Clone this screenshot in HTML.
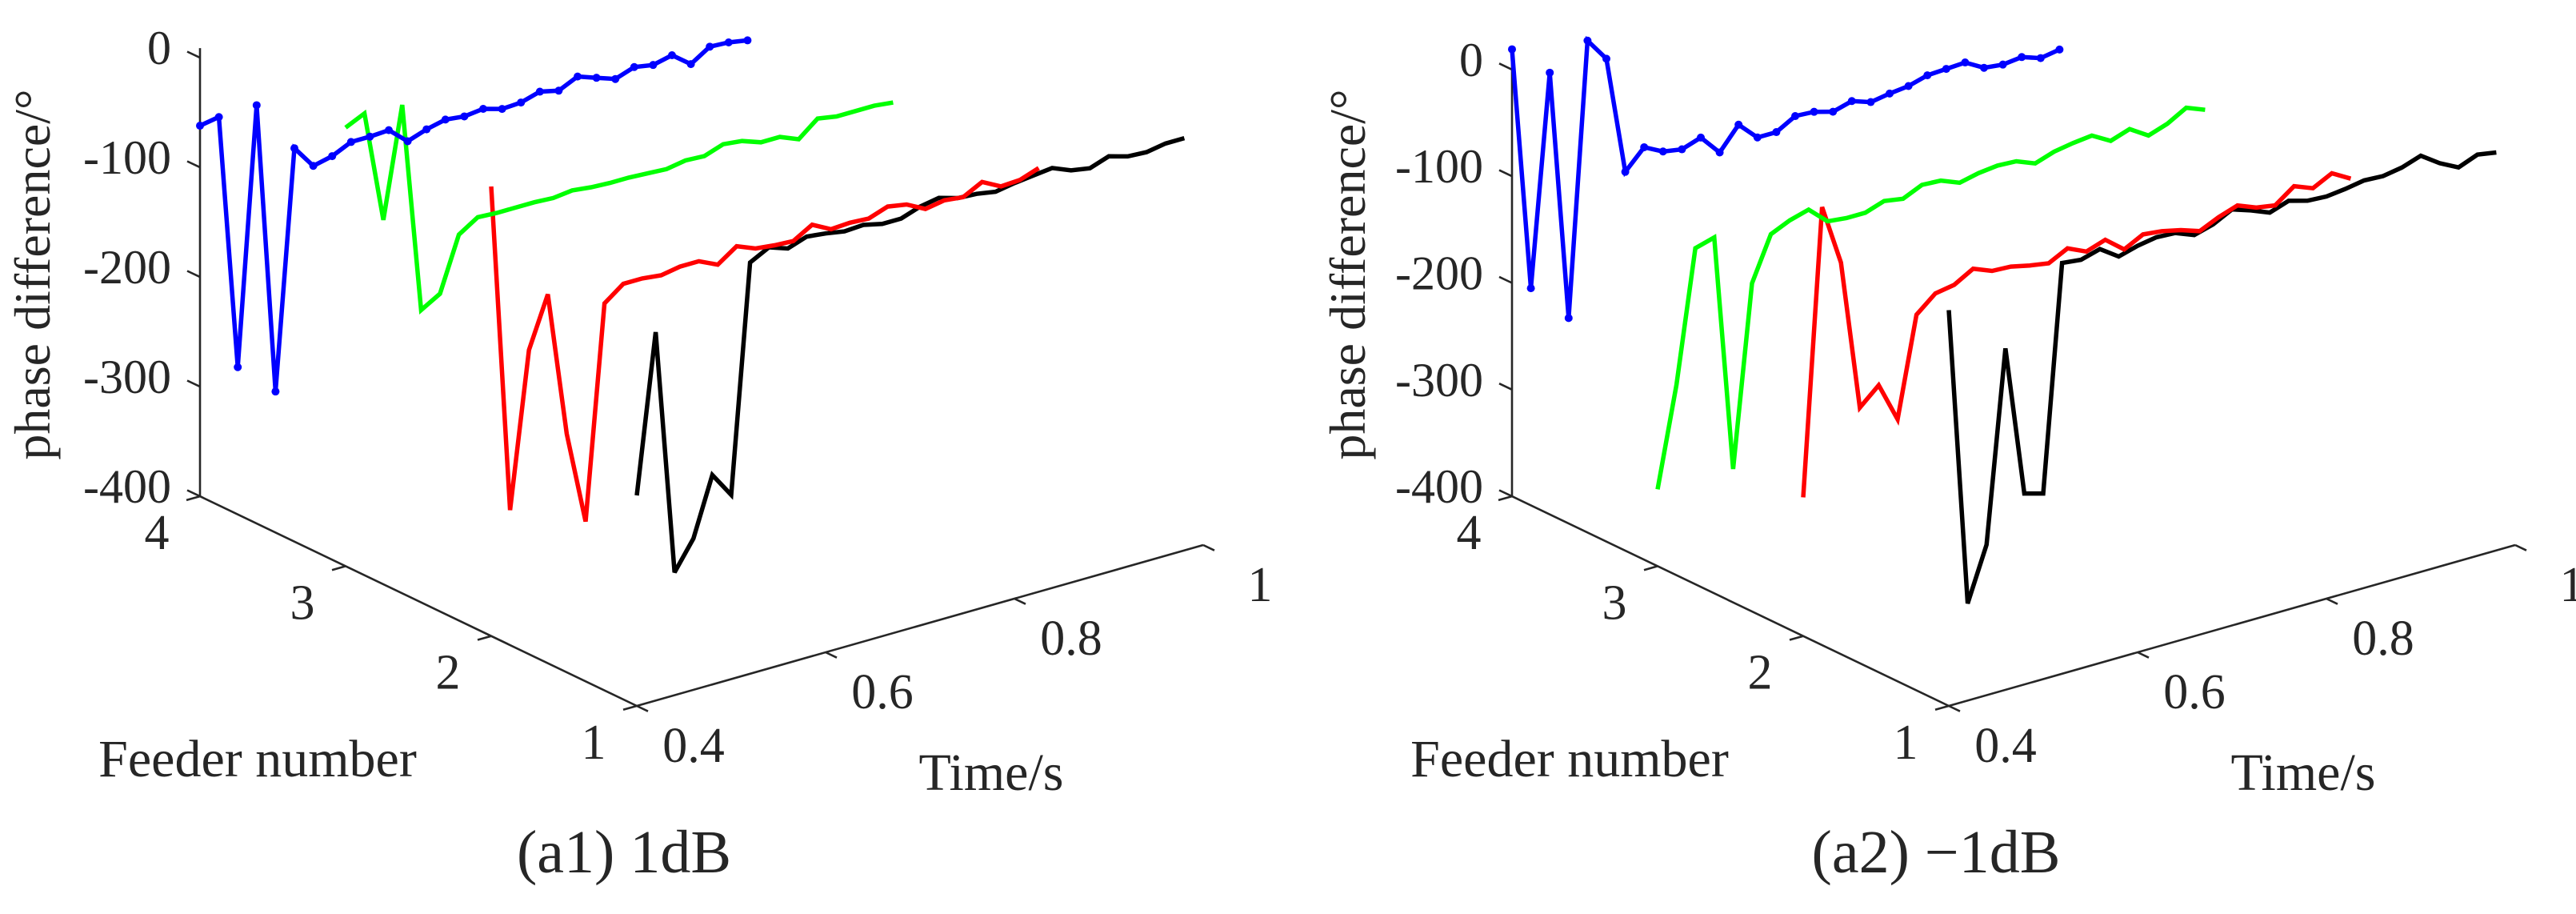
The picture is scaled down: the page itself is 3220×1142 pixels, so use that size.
<!DOCTYPE html>
<html><head><meta charset="utf-8"><style>
html,body{margin:0;padding:0;background:#fff;}
svg{display:block;}
text{font-family:"Liberation Serif",serif;fill:#262626;}
</style></head><body>
<svg id="chart" width="3220" height="1142" viewBox="0 0 3220 1142" xmlns="http://www.w3.org/2000/svg"></svg>
<script>
const times = [0.40,0.42,0.44,0.46,0.48,0.50,0.52,0.54,0.56,0.58,0.60,0.62,0.64,0.66,0.68,0.70,0.72,0.74,0.76,0.78,0.80,0.82,0.84,0.86,0.88,0.90,0.92,0.94,0.96,0.98];
const feeders = [1,2,3,4];
const zTicks = [0,-100,-200,-300,-400];
const fTicks = [1,2,3,4];
const tTicks = [0.4,0.6,0.8,1];
const tTickLabels = ["0.4","0.6","0.8","1"];

// Panel a1 (1dB)
const a1Feeder4 = [-62,-59,-292,-58,-324,-107,-128,-124,-116,-116,-115,-130,-124,-120,-122,-120,-125,-124,-119,-123,-115,-121,-127,-121,-124,-120,-133,-122,-123,-126];
const a1Feeder3 = [0,8,-94,6,-186,-176,-127,-116,-117,-117,-117,-118,-116,-118,-119,-119,-120,-121,-118,-119,-113,-115,-121,-121,-128,-114,-117,-117,-117,-119];
const a1Feeder2 = [10,-290,-149,-103,-235,-320,-126,-113,-113,-115,-112,-112,-120,-108,-115,-117,-118,-108,-117,-116,-117,-111,-114,-123,-120,-122,-113,-122,-121,-115];
const a1Feeder1 = [-208,-64,-288,-262,-209,-232,-25,-16,-22,-16,-18,-21,-20,-24,-24,-18,-15,-20,-21,-24,-21,-19,-17,-24,-27,-21,-26,-27,-24,-24];

// Panel a2 (-1dB)
const a2Feeder4 = [19,-210,-13,-248,7,-15,-126,-108,-117,-120,-114,-133,-112,-129,-129,-119,-120,-125,-120,-126,-123,-121,-116,-115,-114,-124,-126,-124,-130,-127];
const a2Feeder3 = [-328,-235,-112,-107,-329,-160,-119,-111,-106,-122,-124,-124,-118,-121,-113,-114,-121,-117,-115,-116,-123,-117,-114,-112,-122,-116,-127,-121,-111,-118];
const a2Feeder2 = [-270,-3,-60,-201,-185,-222,-129,-114,-111,-101,-108,-109,-113,-116,-107,-115,-109,-123,-114,-116,-120,-126,-118,-112,-119,-122,-109,-116,-107,-117];
const a2Feeder1 = [-29,-309,-259,-80,-221,-226,-15,-17,-12,-24,-19,-16,-17,-24,-19,-10,-16,-23,-17,-22,-23,-21,-18,-19,-16,-10,-22,-31,-24,-27];

const svg = document.getElementById('chart');
const NS = 'http://www.w3.org/2000/svg';
function mk(tag, attrs, parent){
  const e = document.createElementNS(NS, tag);
  for (const k in attrs) e.setAttribute(k, attrs[k]);
  (parent||svg).appendChild(e);
  return e;
}

function drawPanel(cx, cy, kz, series, caption, pname, titleX){
  const g = mk('g', {});
  
  
  const P = (t, f, z) => ({
    x: cx + (t - 0.4) * 1180 - (f - 1) * 182,
    y: cy - (t - 0.4) * 335 - (f - 1) * 87.3 - (z + 400) * kz
  });
  const axStyle = {stroke:'#262626','stroke-width':2.6,fill:'none'};
  // z axis
  const za = P(0.4,4,-400), zb = P(0.4,4,0);
  const zl = mk('line', Object.assign({x1:za.x,y1:za.y,x2:zb.x,y2:zb.y-12}, axStyle), g);
  
  
  zTicks.forEach(v => {
    const p = P(0.4,4,v);
    const tk = mk('line', Object.assign({x1:p.x,y1:p.y,x2:p.x-16,y2:p.y-7.6}, axStyle), g);
    
    
    const tx = mk('text', {x:p.x-36,y:p.y+8,'font-size':60,'text-anchor':'end'}, g);
    tx.textContent = String(v);
    
    
  });
  // feeder axis
  const fa = P(0.4,4,-400), fb = P(0.4,1,-400);
  const fl = mk('line', Object.assign({x1:fa.x,y1:fa.y,x2:fb.x,y2:fb.y}, axStyle), g);
  
  
  fTicks.forEach(v => {
    const p = P(0.4,v,-400);
    const tk = mk('line', Object.assign({x1:p.x,y1:p.y,x2:p.x-17,y2:p.y+4.8}, axStyle), g);
    
    
    const tx = mk('text', {x:p.x-54,y:p.y+66,'font-size':62,'text-anchor':'middle'}, g);
    tx.textContent = String(v);
    
    
  });
  // time axis
  const ta = P(0.4,1,-400), tb = P(1.0,1,-400);
  const tl = mk('line', Object.assign({x1:ta.x,y1:ta.y,x2:tb.x,y2:tb.y}, axStyle), g);
  
  
  tTicks.forEach((v,i) => {
    const p = P(v,1,-400);
    const tk = mk('line', Object.assign({x1:p.x,y1:p.y,x2:p.x+14,y2:p.y+6.7}, axStyle), g);
    
    
    const tx = mk('text', {x:p.x+71,y:p.y+70,'font-size':62,'text-anchor':'middle'}, g);
    tx.textContent = tTickLabels[i];
    
    
  });
  // axis titles
  const yt = mk('text', {x:0,y:0,'font-size':64,'text-anchor':'middle',transform:`translate(${titleX},343) rotate(-90)`}, g);
  yt.textContent = 'phase difference/°';
  
  
  const ft = mk('text', {x:cx-474,y:cy+88,'font-size':66,'text-anchor':'middle'}, g);
  ft.textContent = 'Feeder number';
  
  
  const tt = mk('text', {x:cx+443,y:cy+105,'font-size':66,'text-anchor':'middle'}, g);
  tt.textContent = 'Time/s';
  
  
  const cp = mk('text', {x:cx-16,y:cy+208,'font-size':76,'text-anchor':'middle'}, g);
  cp.textContent = caption;
  
  
  // series
  const colors = ['#000000','#ff0000','#00ff00','#0000ff'];
  series.forEach((vals, si) => {
    const f = feeders[si];
    const pts = vals.map((z,i) => P(times[i], f, z));
    const pl = mk('polyline', {points: pts.map(p => p.x.toFixed(1)+','+p.y.toFixed(1)).join(' '),
      fill:'none', stroke:colors[si], 'stroke-width':5.5, 'stroke-linejoin':'miter','stroke-miterlimit':3}, g);
    
    
    if (f === 4) {
      pts.forEach(p => {
        const c = mk('circle', {cx:p.x, cy:p.y, r:5, fill:colors[si]}, g);
        
        
      });
    }
  });
}

drawPanel(796, 882, 1.37, [a1Feeder1,a1Feeder2,a1Feeder3,a1Feeder4], '(a1) 1dB', 'panel-a1', 62);
drawPanel(2436, 882, 1.333, [a2Feeder1,a2Feeder2,a2Feeder3,a2Feeder4], '(a2) \u22121dB', 'panel-a2', 1706);
</script>
</body></html>
